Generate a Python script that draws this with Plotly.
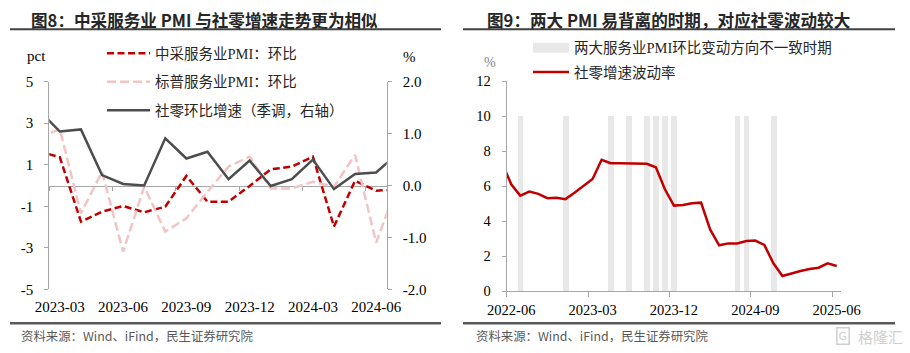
import plotly.graph_objects as go

W, H = 910, 353

# ---------------- data: left panel (m/m changes) ----------------
left_months = ["2023-02", "2023-03", "2023-04", "2023-05", "2023-06", "2023-07",
               "2023-08", "2023-09", "2023-10", "2023-11", "2023-12", "2024-01",
               "2024-02", "2024-03", "2024-04", "2024-05", "2024-06", "2024-07"]
nbs_services_pmi_mom = [1.65, 1.36, -1.74, -1.26, -0.99, -1.29, -1.02, 0.46, -0.78,
                        -0.78, -0.02, 0.78, 0.91, 1.39, -1.98, 0.23, -0.25, -0.20]
sp_services_pmi_mom = [2.30, 2.71, -1.34, 0.66, -3.19, -0.06, -2.22, -1.58, -0.30,
                       0.91, 1.39, -0.14, -0.14, 0.18, -0.06, 1.47, -2.75, 0.00]
retail_mom_sa = [1.45, 1.04, 1.08, 0.20, 0.03, 0.00, 0.91, 0.52, 0.65, 0.12,
                 0.48, -0.01, 0.12, 0.50, -0.07, 0.22, 0.25, 0.61]
left_tick_labels = ["2023-03", "2023-06", "2023-09", "2023-12", "2024-03", "2024-06"]
left_y_ticks = [-5, -3, -1, 1, 3, 5]
left_y2_ticks = [-2, -1, 0, 1, 2]

# ---------------- data: right panel ----------------
right_months = ["2022-05", "2022-06", "2022-07", "2022-08", "2022-09", "2022-10",
                "2022-11", "2022-12", "2023-01", "2023-02", "2023-03", "2023-04",
                "2023-05", "2023-06", "2023-07", "2023-08", "2023-09", "2023-10",
                "2023-11", "2023-12", "2024-01", "2024-02", "2024-03", "2024-04",
                "2024-05", "2024-06", "2024-07", "2024-08", "2024-09", "2024-10",
                "2024-11", "2024-12", "2025-01", "2025-02", "2025-03", "2025-04",
                "2025-05", "2025-06"]
retail_volatility = [7.30, 6.10, 5.45, 5.68, 5.55, 5.30, 5.33, 5.25, 5.62, 6.00,
                     6.40, 7.50, 7.30, 7.30, 7.30, 7.30, 7.27, 7.07, 5.81, 4.88,
                     4.92, 5.01, 5.05, 3.52, 2.61, 2.72, 2.72, 2.86, 2.88, 2.63,
                     1.58, 0.86, 1.01, 1.14, 1.26, 1.33, 1.58, 1.43]
divergence_months = ["2022-07", "2022-12", "2023-05", "2023-07", "2023-09", "2023-10",
                     "2023-11", "2023-12", "2024-07", "2024-08", "2024-11"]
divergence_level = 10
right_tick_labels = ["2022-06", "2023-03", "2023-12", "2024-09", "2025-06"]
right_y_ticks = [0, 2, 4, 6, 8, 10, 12]


def px_x(p):
    return p / W


def px_y(p):
    return 1 - p / H


# plot-area geometry (pixels)
L_X0, L_X1, L_Y0, L_Y1 = 49.3, 386.7, 81.7, 289.3
R_X0, R_X1, R_Y0, R_Y1 = 506.7, 841.2, 81.0, 291.0

AXIS = "#A6A6A6"
BAR_GREY = "#E8E8E8"
SERIF = "Liberation Serif, Times New Roman, serif"
LEG_FONT = "Liberation Serif, Noto Sans CJK SC, serif"
CJK = "Noto Sans CJK SC, sans-serif"

fig = go.Figure()

xl = list(range(len(left_months)))
fig.add_trace(go.Scatter(x=xl, y=nbs_services_pmi_mom, name="中采服务业PMI：环比", mode="lines",
                         line=dict(color="#C00000", width=2.5, dash="7px,3.5px"),
                         xaxis="x", yaxis="y", legend="legend", legendgroup="a"))
fig.add_trace(go.Scatter(x=xl, y=sp_services_pmi_mom, name="标普服务业PMI：环比", mode="lines",
                         line=dict(color="#F2C4C4", width=2.5, dash="9px,4px"),
                         xaxis="x", yaxis="y", legend="legend", legendgroup="b"))
fig.add_trace(go.Scatter(x=xl, y=retail_mom_sa, name="社零环比增速（季调，右轴）", mode="lines",
                         line=dict(color="#4D4D4D", width=2.5),
                         xaxis="x", yaxis="y2", legend="legend", legendgroup="c"))
fig.add_trace(go.Scatter(x=[None], y=[None], xaxis="x3", yaxis="y", showlegend=False,
                         hoverinfo="skip"))

xr = list(range(len(right_months)))
div_name = "两大服务业PMI环比变动方向不一致时期"
fig.add_trace(go.Bar(x=[right_months.index(m) for m in divergence_months],
                     y=[divergence_level] * len(divergence_months), width=0.63,
                     marker=dict(color=BAR_GREY, line=dict(width=0)),
                     name=div_name, showlegend=False,
                     xaxis="x2", yaxis="y3", legendgroup="d"))
# legend swatch for the shaded periods (wide band like the original)
fig.add_trace(go.Scatter(x=[None], y=[None], mode="lines", name=div_name,
                         line=dict(color=BAR_GREY, width=10),
                         xaxis="x2", yaxis="y3", legend="legend2", legendgroup="d",
                         hoverinfo="skip"))
fig.add_trace(go.Scatter(x=xr, y=retail_volatility, name="社零增速波动率", mode="lines",
                         line=dict(color="#C00000", width=2.5),
                         xaxis="x2", yaxis="y3", legend="legend2", legendgroup="e"))

l_tickvals = [left_months.index(m) for m in left_tick_labels]
r_tickvals = [right_months.index(m) for m in right_tick_labels]
l_range = [0.5, len(left_months) - 1.5]
r_range = [0.5, len(right_months) - 0.5]
y_l_range = [min(left_y_ticks), max(left_y_ticks)]
zero_frac = (0 - y_l_range[0]) / (y_l_range[1] - y_l_range[0])
l_dom_y = [px_y(L_Y1), px_y(L_Y0)]

tick_font = dict(family=SERIF, size=15, color="#000000")
tick_font_r = dict(family=SERIF, size=14.5, color="#000000")

fig.update_layout(
    width=W, height=H, margin=dict(l=0, r=0, t=0, b=0, autoexpand=False),
    paper_bgcolor="white", plot_bgcolor="white",
    xaxis=dict(domain=[px_x(L_X0), px_x(L_X1)], range=l_range, anchor="y", automargin=False,
               tickmode="array", tickvals=l_tickvals, ticktext=left_tick_labels,
               showline=False, ticks="", showgrid=False, zeroline=False,
               tickfont=tick_font, ticklabelstandoff=7),
    xaxis3=dict(overlaying="x", anchor="free", automargin=False,
                position=l_dom_y[0] + zero_frac * (l_dom_y[1] - l_dom_y[0]),
                range=l_range, showline=True, linecolor=AXIS, linewidth=1,
                ticks="outside", ticklen=4, tickcolor=AXIS,
                tickvals=[v - 0.5 for v in l_tickvals], showticklabels=False,
                showgrid=False, zeroline=False, layer="below traces"),
    yaxis=dict(domain=l_dom_y, range=y_l_range, anchor="x", automargin=False,
               tickmode="array", tickvals=left_y_ticks,
               ticktext=[f"{v:d}" for v in left_y_ticks], showline=True, linecolor=AXIS,
               ticks="outside", ticklen=4, tickcolor=AXIS, showgrid=False,
               zeroline=False, tickfont=tick_font, ticklabelstandoff=8),
    yaxis2=dict(overlaying="y", side="right", anchor="x", automargin=False,
                range=[min(left_y2_ticks), max(left_y2_ticks)],
                tickmode="array", tickvals=left_y2_ticks,
                ticktext=[f"{v:.1f}" for v in left_y2_ticks], showline=True,
                linecolor=AXIS, ticks="outside", ticklen=4, tickcolor=AXIS,
                showgrid=False, zeroline=False, tickfont=tick_font, ticklabelstandoff=8),
    xaxis2=dict(domain=[px_x(R_X0), px_x(R_X1)], range=r_range, anchor="y3", automargin=False,
                tickmode="array", tickvals=r_tickvals, ticktext=right_tick_labels,
                showline=True, linecolor=AXIS, ticks="", showgrid=False, zeroline=False,
                minor=dict(tickmode="array", tickvals=[v - 0.5 for v in r_tickvals],
                           ticks="outside", ticklen=5, tickcolor=AXIS, showgrid=False),
                tickfont=tick_font_r, ticklabelstandoff=6),
    yaxis3=dict(domain=[px_y(R_Y1), px_y(R_Y0)], range=[min(right_y_ticks), max(right_y_ticks)],
                anchor="x2", automargin=False, tickmode="array", tickvals=right_y_ticks,
                showline=True, linecolor=AXIS,
                ticks="outside", ticklen=4, tickcolor=AXIS, showgrid=False,
                zeroline=False, tickfont=tick_font_r, ticklabelstandoff=8),
    legend=dict(x=px_x(102), y=px_y(37.3), xanchor="left", yanchor="top",
                bgcolor="rgba(0,0,0,0)", itemwidth=43, tracegroupgap=6.7,
                font=dict(family=LEG_FONT, size=14.5, color="#262626")),
    legend2=dict(x=px_x(528), y=px_y(31.7), xanchor="left", yanchor="top",
                 bgcolor="rgba(0,0,0,0)", itemwidth=36, tracegroupgap=2.6,
                 font=dict(family=LEG_FONT, size=14.5, color="#262626")),
    bargap=0,
)

shapes = []
for x0, x1 in [(10, 441), (463, 895)]:
    shapes.append(dict(type="line", xref="paper", yref="paper", x0=px_x(x0), x1=px_x(x1),
                       y0=px_y(29.3), y1=px_y(29.3), line=dict(color="#404040", width=2)))
    shapes.append(dict(type="line", xref="paper", yref="paper", x0=px_x(x0), x1=px_x(x1),
                       y0=px_y(323.3), y1=px_y(323.3), line=dict(color="#595959", width=2.5)))
fig.update_layout(shapes=shapes)

ann = []
ann.append(dict(text="图8：中采服务业 PMI 与社零增速走势更为相似", x=px_x(29), y=px_y(20),
                xanchor="left", yanchor="middle", showarrow=False,
                font=dict(family=CJK, size=16.6, color="#262626", weight="bold")))
ann.append(dict(text="图9：两大 PMI 易背离的时期，对应社零波动较大", x=px_x(485), y=px_y(20),
                xanchor="left", yanchor="middle", showarrow=False,
                font=dict(family=CJK, size=16.6, color="#262626", weight="bold")))
for x in (19, 474):
    ann.append(dict(text="资料来源：Wind、iFind，民生证券研究院", x=px_x(x), y=px_y(336),
                    xanchor="left", yanchor="middle", showarrow=False,
                    font=dict(family=CJK, size=12.4, color="#595959")))
ann.append(dict(text="pct", x=px_x(36), y=px_y(56), xanchor="center", yanchor="middle",
                showarrow=False, font=dict(family=SERIF, size=15, color="#000000")))
ann.append(dict(text="%", x=px_x(409), y=px_y(57), xanchor="center", yanchor="middle",
                showarrow=False, font=dict(family=SERIF, size=15, color="#000000")))
ann.append(dict(text="%", x=px_x(490), y=px_y(63), xanchor="center", yanchor="middle",
                showarrow=False, font=dict(family=SERIF, size=14, color="#7F7F7F")))
ann.append(dict(text="G", x=px_x(843), y=px_y(336), xanchor="center", yanchor="middle",
                showarrow=False, bordercolor="#CFCFCF", borderwidth=1.5, borderpad=1,
                font=dict(family="DejaVu Sans", size=11, color="#CFCFCF")))
ann.append(dict(text="格隆汇", x=px_x(856), y=px_y(336), xanchor="left", yanchor="middle",
                showarrow=False, font=dict(family=CJK, size=15, color="#CFCFCF")))
for a in ann:
    a.update(xref="paper", yref="paper")
fig.update_layout(annotations=ann)

fig.write_html("out.html")
